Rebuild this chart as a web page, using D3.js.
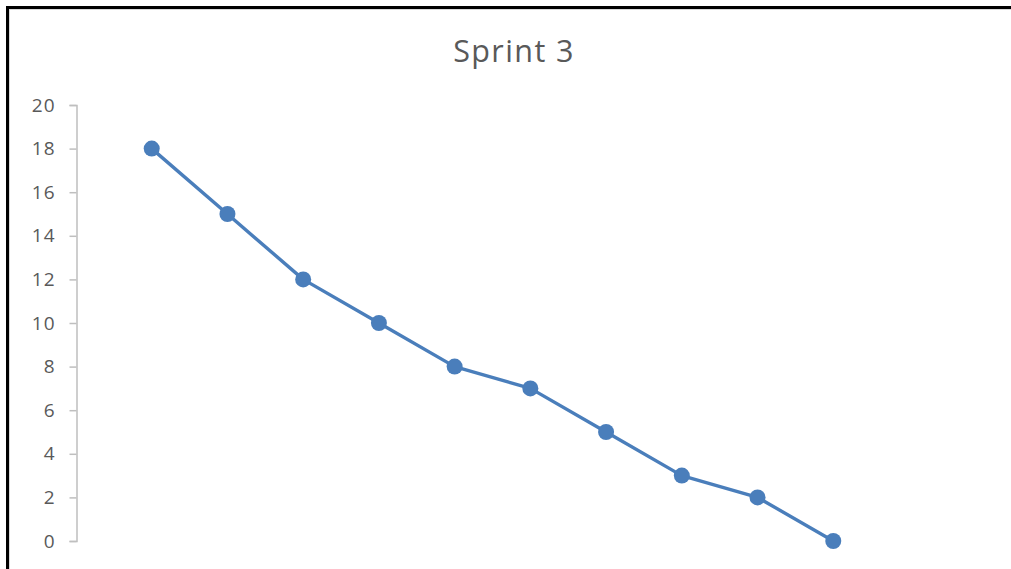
<!DOCTYPE html>
<html>
<head>
<meta charset="utf-8">
<script src="https://cdn.jsdelivr.net/npm/d3@7"></script>
<style>
  body { margin: 0; background: #fff; }
  svg { display: block; }
</style>
</head>
<body>
<div id="chart"></div>
<script>
const title = "Sprint 3";
const days = [1, 2, 3, 4, 5, 6, 7, 8, 9, 10];
const remaining = [18, 15, 12, 10, 8, 7, 5, 3, 2, 0];
const yTicks = [0, 2, 4, 6, 8, 10, 12, 14, 16, 18, 20];

const width = 1011, height = 569;
const plot = { LEFT: 76, RIGHT: 909, TOP: 105, BOTTOM: 541 };

const svg = d3.select("#chart").append("svg")
  .attr("width", width)
  .attr("height", height);

// frame
svg.append("rect")
  .attr("x", 7.5).attr("y", 7.5)
  .attr("width", 1100).attr("height", 700)
  .attr("fill", "#fff")
  .attr("stroke", "#000")
  .attr("stroke-width", 3);
svg.append("rect")
  .attr("x", 9.5).attr("y", 9.5)
  .attr("width", 1100).attr("height", 700)
  .attr("fill", "none")
  .attr("stroke", "#d9d9d9")
  .attr("stroke-width", 1);

// title
svg.append("text")
  .attr("x", 514)
  .attr("y", 62)
  .attr("text-anchor", "middle")
  .attr("font-family", "'Open Sans', 'Noto Sans', sans-serif")
  .attr("font-size", "30.5px")
  .attr("letter-spacing", "1.4px")
  .attr("fill", "#595959")
  .text(title);

// scales
const x = d3.scaleLinear()
  .domain([0, 11])
  .range([plot.LEFT, plot.RIGHT]);
const y = d3.scaleLinear()
  .domain([0, 20])
  .range([plot.BOTTOM, plot.TOP]);

// y axis
const yAxis = d3.axisLeft(y)
  .tickValues(yTicks)
  .tickSize(7)
  .tickPadding(14)
  .tickFormat(d3.format("d"));
const gy = svg.append("g")
  .attr("transform", `translate(${plot.LEFT + 0.5}, 0)`)
  .call(yAxis);
gy.select(".domain")
  .attr("stroke", "#bfbfbf")
  .attr("stroke-width", 1.5);
gy.selectAll(".tick line")
  .attr("stroke", "#bfbfbf")
  .attr("stroke-width", 1.5);
gy.selectAll(".tick text")
  .attr("fill", "#595959")
  .attr("font-family", "'Open Sans', 'Noto Sans', sans-serif")
  .attr("font-size", "19px")
  .attr("letter-spacing", "1px");

// line
const points = days.map((d, i) => ({ day: d, value: remaining[i] }));
const line = d3.line()
  .x(d => x(d.day))
  .y(d => y(d.value));

svg.append("path")
  .datum(points)
  .attr("fill", "none")
  .attr("stroke", "#4a7ebb")
  .attr("stroke-width", 3.4)
  .attr("stroke-linejoin", "round")
  .attr("d", line);

svg.selectAll("circle.pt")
  .data(points)
  .enter().append("circle")
  .attr("class", "pt")
  .attr("cx", d => x(d.day))
  .attr("cy", d => y(d.value))
  .attr("r", 8)
  .attr("fill", "#4a7ebb");
</script>
</body>
</html>
